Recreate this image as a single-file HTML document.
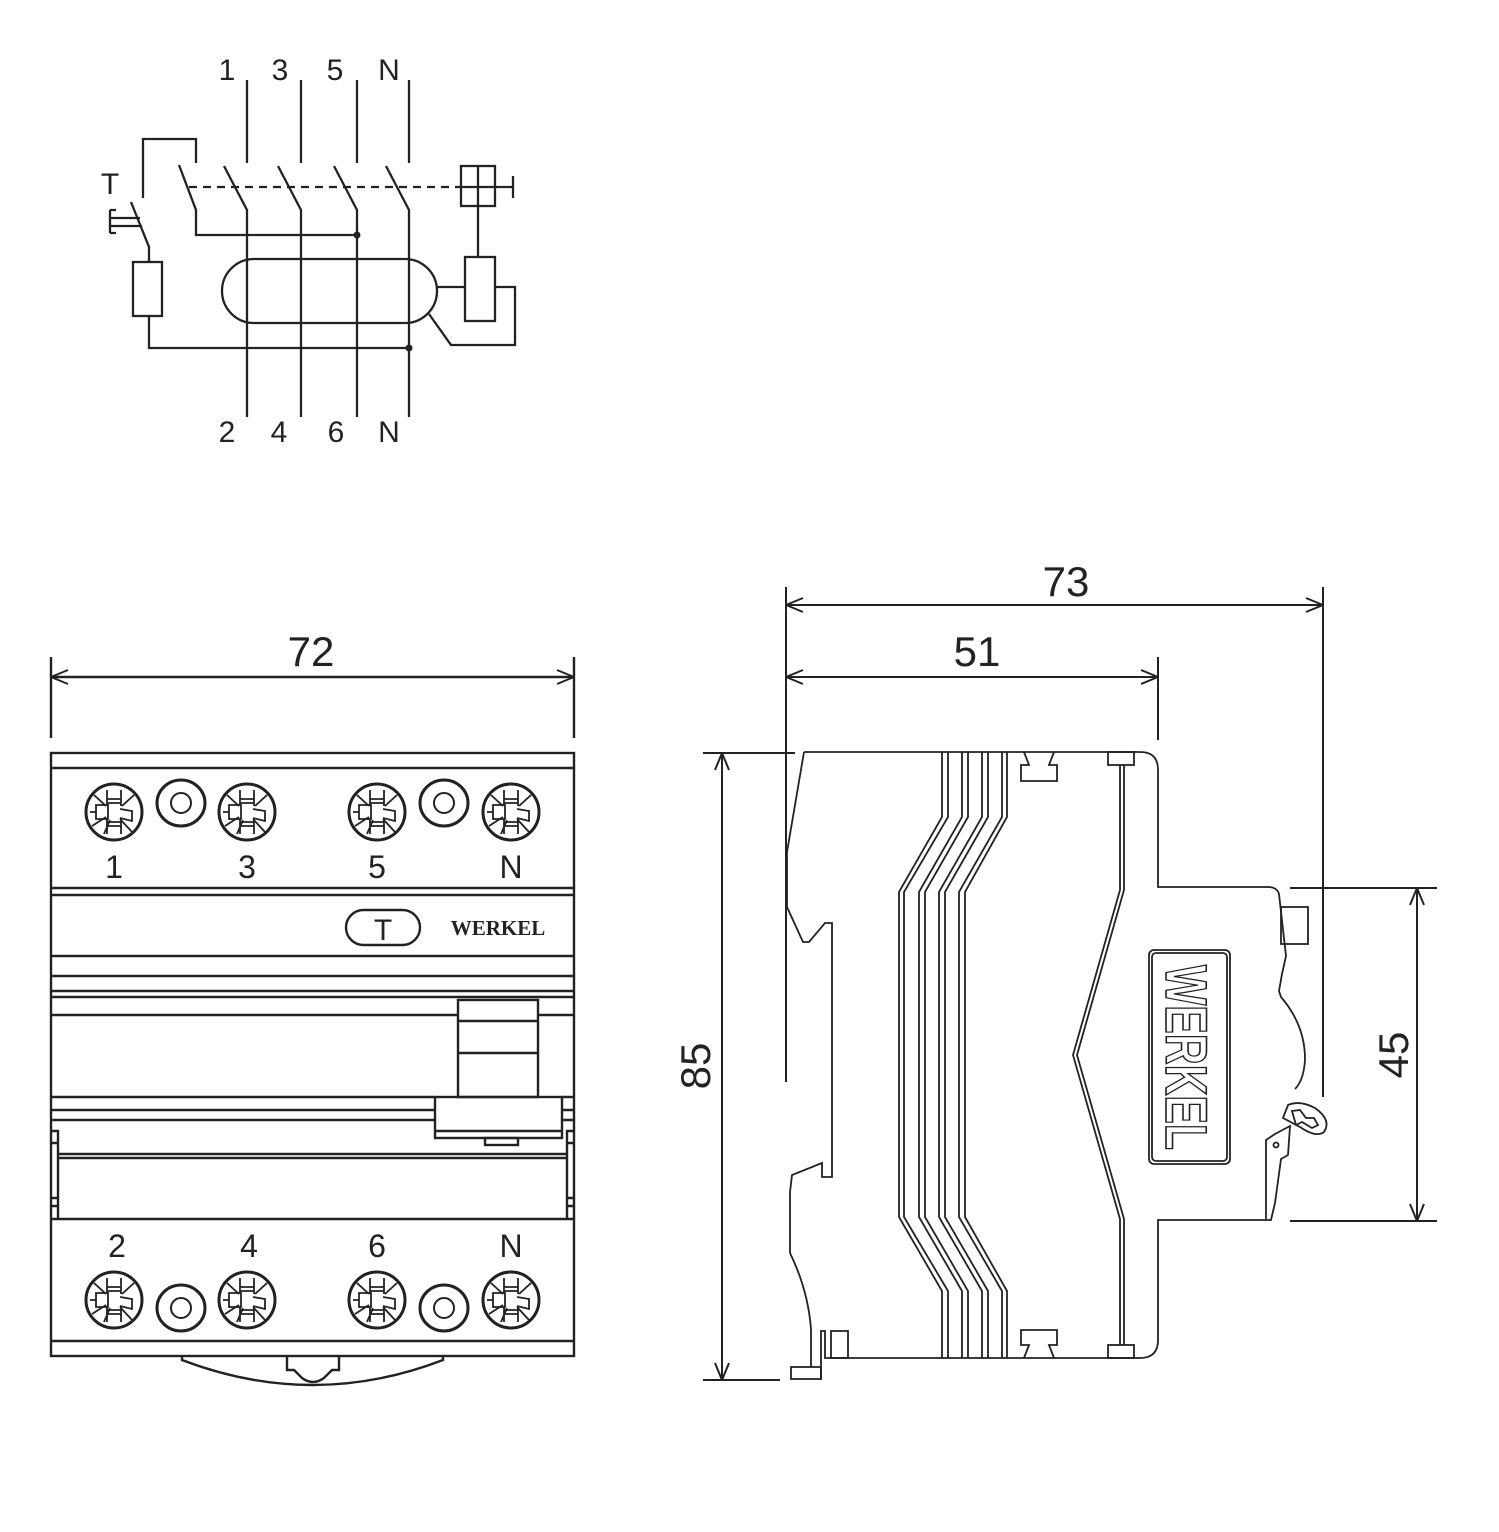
<!DOCTYPE html>
<html><head><meta charset="utf-8"><style>
html,body{margin:0;padding:0;background:#fff}
svg{display:block}
text{font-family:"Liberation Sans",sans-serif;fill:#222}
</style></head><body>
<svg width="1499" height="1532" viewBox="0 0 1499 1532" xmlns="http://www.w3.org/2000/svg">
<defs>
<g id="screw" fill="none" stroke="#222">
<circle r="28" stroke-width="3"/>
<path d="M-7,-22V-6M7,-22V-6M-7,6V22M7,6V22M-7,-13H7M-7,-9H7M-7,10H7M-7,14H7" stroke-width="1.8"/>
<path d="M-18,-7H-6V7H-18ZM6,-3L18,-1V9L6,6" stroke-width="1.8"/>
<path d="M-20,-17L-8,-6M20,-17L8,-6M-22,14L-8,5M-10,22L-4,8M18,20L6,7M-24,0H-18" stroke-width="1.8"/>
</g>
<g id="washer" fill="none" stroke="#222" stroke-width="3">
<ellipse rx="24" ry="23"/><circle r="10" stroke-width="2"/>
</g>
<marker id="ar" viewBox="0 0 20 20" refX="19" refY="10" markerWidth="20" markerHeight="20" markerUnits="userSpaceOnUse" orient="auto-start-reverse">
<path d="M2,3L19,10L2,17" fill="none" stroke="#222" stroke-width="2"/>
</marker>
</defs>

<!-- SCHEMATIC -->
<g fill="none" stroke="#222" stroke-width="2.3">
<path d="M247,80V163M301,80V163M357,80V163M409,80V163"/>
<path d="M224,166L247,210V417M278,166L301,210V417M334,166L357,210V417M386,166L409,210V417"/>
<path d="M143,198V139H196V163"/>
<path d="M179,165L196,210V235H357"/>
<path d="M131,202L149,247V262"/>
<rect x="133" y="262" width="29" height="54"/>
<path d="M149,316V348H409"/>
<path d="M110,210V233M110,210H116M110,218H140M110,226H142M110,233H116"/>
<path d="M189,187H461" stroke-dasharray="8,6"/>
<rect x="461" y="166" width="34" height="40"/>
<path d="M478,166V257M461,187H513M513,176V198"/>
<rect x="465" y="257" width="30" height="64"/>
<rect x="222" y="259" width="215" height="64" rx="32"/>
<path d="M437,287H465M495,287H515V345H451L429,314"/>
</g>
<circle cx="357" cy="235" r="3.5" fill="#222"/>
<circle cx="409" cy="348" r="3.5" fill="#222"/>
<g font-size="30" text-anchor="middle">
<text x="227" y="80">1</text><text x="280" y="80">3</text><text x="335" y="80">5</text><text x="389" y="80">N</text>
<text x="227" y="442">2</text><text x="279" y="442">4</text><text x="336" y="442">6</text><text x="389" y="442">N</text>
<text x="110" y="194">T</text>
</g>

<!-- FRONT VIEW -->
<g fill="none" stroke="#222" stroke-width="2.4">
<path d="M51,657V738M574,657V738"/>
<path d="M51,677H574" marker-start="url(#ar)" marker-end="url(#ar)"/>
<rect x="51" y="753" width="523" height="603"/>
<path d="M51,768H574M51,888H574M51,895H574M51,956H574M51,976H574M51,991H574M51,997H574M51,1015H458M538,1015H574"/>
<path d="M51,1097H435M562,1097H574M51,1110H435M562,1110H574M51,1120H435M562,1120H574"/>
<path d="M58,1154H567M58,1158H567"/>
<path d="M51,1219H574M51,1341H574"/>
<path d="M51,1131H58V1219M51,1143H58M51,1198H58M51,1206H58"/>
<path d="M574,1131H567V1219M574,1143H567M574,1198H567M574,1206H567"/>
<rect x="458" y="1000" width="80" height="97"/>
<path d="M458,1021H538M458,1053H538"/>
<rect x="435" y="1097" width="127" height="41"/>
<path d="M435,1131H562"/>
<rect x="485" y="1138" width="33" height="7"/>
<path d="M182,1356V1360Q313,1410 443,1360V1356"/>
<path d="M287,1356V1370H294L302,1378Q313,1386 324,1378L332,1370H339V1356"/>
<rect x="346" y="910" width="74" height="35" rx="17.5"/>
</g>
<text x="383" y="940" font-size="30" text-anchor="middle">T</text>
<text x="498" y="935" font-size="21" font-weight="bold" text-anchor="middle" style="font-family:'Liberation Serif',serif">WERKEL</text>
<use href="#screw" x="114" y="812"/><use href="#washer" x="181" y="803"/><use href="#screw" x="247" y="812"/>
<use href="#screw" x="377" y="812"/><use href="#washer" x="444" y="803"/><use href="#screw" x="511" y="812"/>
<use href="#screw" x="114" y="1300"/><use href="#washer" x="181" y="1308"/><use href="#screw" x="247" y="1300"/>
<use href="#screw" x="377" y="1300"/><use href="#washer" x="444" y="1308"/><use href="#screw" x="511" y="1300"/>
<g font-size="32" text-anchor="middle">
<text x="114" y="878">1</text><text x="247" y="878">3</text><text x="377" y="878">5</text><text x="511" y="878">N</text>
<text x="117" y="1257">2</text><text x="249" y="1257">4</text><text x="377" y="1257">6</text><text x="511" y="1257">N</text>
</g>
<g font-size="42" text-anchor="middle">
<text x="311" y="666">72</text>
<text x="1066" y="596">73</text>
<text x="977" y="666">51</text>
<text transform="translate(710,1066) rotate(-90)">85</text>
<text transform="translate(1408,1055) rotate(-90)">45</text>
</g>

<!-- SIDE VIEW -->
<g fill="none" stroke="#222" stroke-width="2">
<path d="M786,587V1082M1323,587V1097M1158,657V740"/>
<path d="M786,605H1323" marker-start="url(#ar)" marker-end="url(#ar)"/>
<path d="M786,677H1158" marker-start="url(#ar)" marker-end="url(#ar)"/>
<path d="M703,753H795M703,1380H780"/>
<path d="M722,753V1380" marker-start="url(#ar)" marker-end="url(#ar)"/>
<path d="M1290,888H1437M1290,1221H1437"/>
<path d="M1417,888V1221" marker-start="url(#ar)" marker-end="url(#ar)"/>
</g>
<g fill="none" stroke="#222" stroke-width="1.8">
<path d="M804,752L787,852V907L803,942H809L825,923H832V1177H822V1163L792,1175L790,1192V1253Q808,1290 811,1329V1367"/>
<rect x="791" y="1367" width="30" height="12"/>
<path d="M821,1379V1331H825V1358H1140Q1158,1358 1158,1340V1220H1271L1275,1203L1281,1159L1288,1155L1290,1126L1275,1134L1266,1140V1219"/>
<circle cx="1276" cy="1145" r="2.5"/>
<rect x="831" y="1331" width="17" height="27"/>
<path d="M804,752H1140Q1158,752 1158,770V887H1268Q1277,887 1279,894L1286,956L1282,974L1279,991L1281,997Q1305,1025 1305,1059Q1304,1080 1295,1089"/>
<rect x="1281" y="907" width="27" height="37"/>
<path d="M1288,1105Q1300,1100 1315,1108Q1332,1120 1324,1132Q1316,1138 1300,1127L1283,1118Z"/>
<path d="M1292,1111L1300,1110L1306,1118L1314,1118L1318,1125L1312,1128L1302,1122L1296,1125Z"/>
<path d="M942,752V817L899,892V1217L942,1291V1358M948,752V817L904,892V1217L948,1291V1358"/>
<path d="M962,752V817L919,892V1217L962,1291V1358M968,752V817L925,892V1217L968,1291V1358"/>
<path d="M982,752V817L939,892V1217L982,1291V1358M988,752V817L945,892V1217L988,1291V1358"/>
<path d="M1002,752V817L959,892V1217L1002,1291V1358M1007,752V817L965,892V1217L1007,1291V1358"/>
<path d="M1024,752L1029,765H1021V781H1057V765H1049L1054,752"/>
<path d="M1024,1358L1029,1345H1021V1330H1057V1345H1049L1054,1358"/>
<rect x="1108" y="752" width="26" height="13"/>
<rect x="1108" y="1345" width="26" height="13"/>
<path d="M1120,765V890L1073,1055L1120,1219V1345M1124,765V890L1077,1055L1124,1219V1345"/>
<rect x="1149" y="950" width="81" height="214" rx="5"/>
<rect x="1152" y="953" width="75" height="208" rx="4"/>
</g>
<text transform="translate(1166,965) rotate(90)" font-size="58" font-weight="bold" textLength="185" lengthAdjust="spacingAndGlyphs" style="fill:#fff;stroke:#222;stroke-width:1.6">WERKEL</text>
</svg>
</body></html>
